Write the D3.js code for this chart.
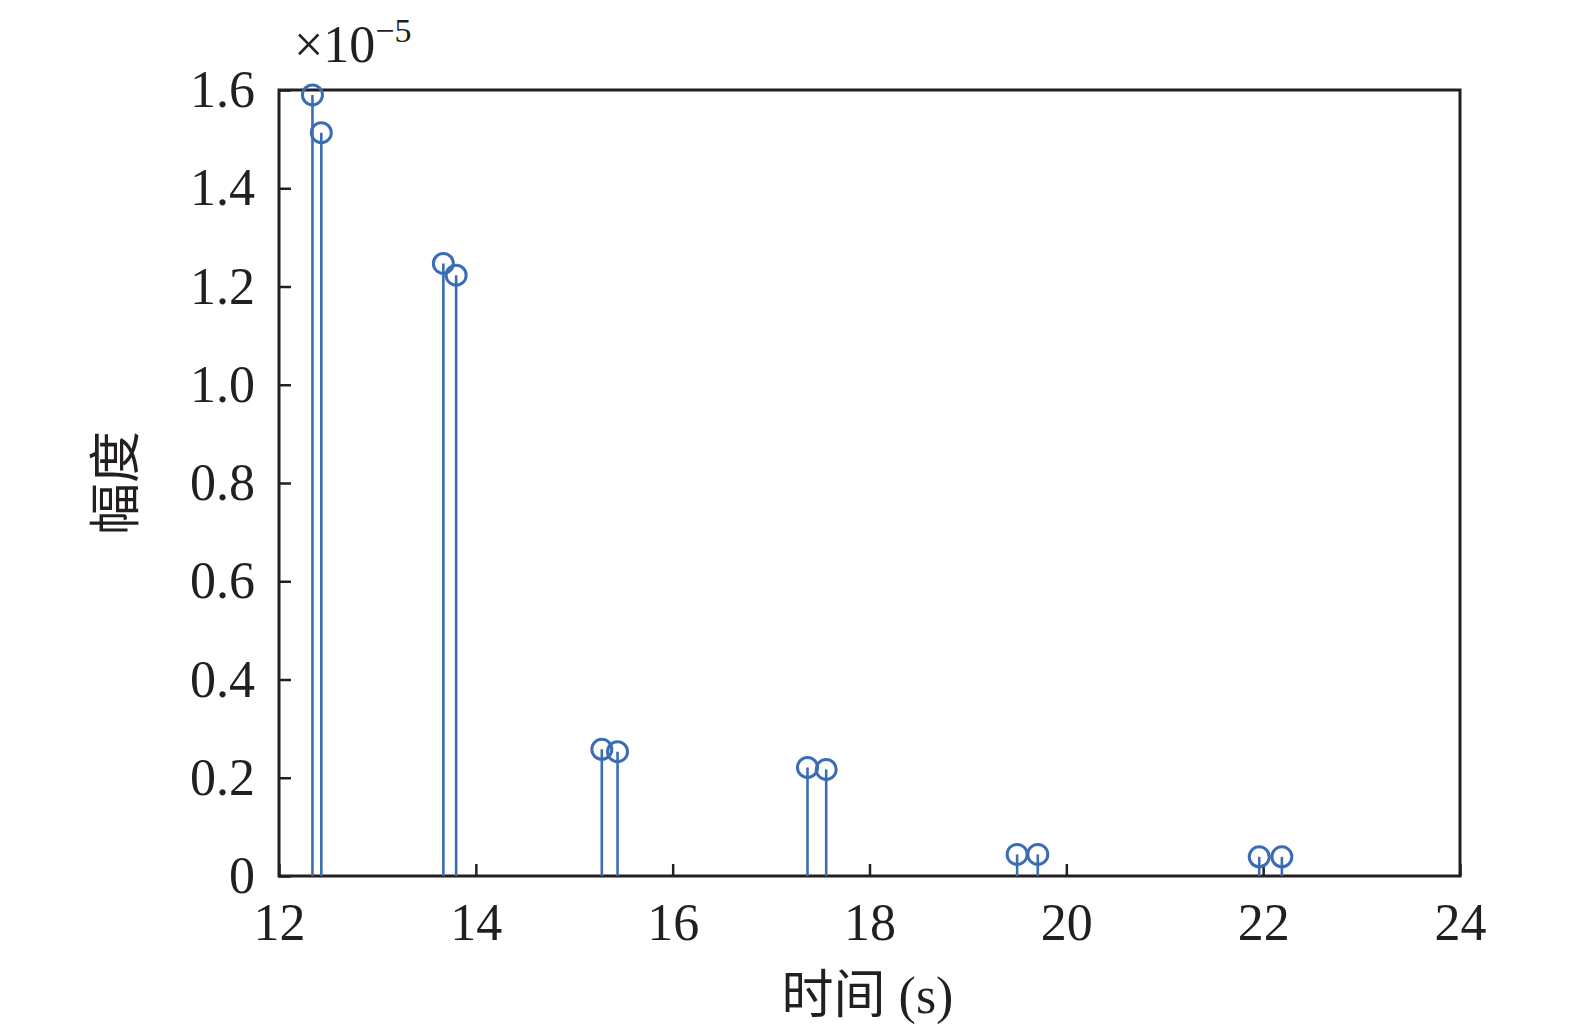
<!DOCTYPE html>
<html>
<head>
<meta charset="utf-8">
<script src="https://cdn.jsdelivr.net/npm/d3@7"></script>
<style>
  body { margin: 0; background: #fff; }
  svg { display: block; }
</style>
</head>
<body>
<svg id="chart" width="1575" height="1036"></svg>
<script>
// temps (s) et amplitude (x1e-5)
const temps = [12.34, 12.43, 13.67, 13.80, 15.28, 15.44, 17.37, 17.56, 19.50, 19.71, 21.96, 22.19]
const amplitude = [1.590, 1.513, 1.247, 1.223, 0.258, 0.253, 0.221, 0.217, 0.044, 0.044, 0.039, 0.039]
const xTicks = [12, 14, 16, 18, 20, 22, 24]
const yTicks = [0, 0.2, 0.4, 0.6, 0.8, 1.0, 1.2, 1.4, 1.6]

const COULEUR = '#3a6db4'
const POLICE = '"Liberation Serif", "Times New Roman", serif'
const POLICE_CJK = '"Noto Sans CJK SC", sans-serif'

const svg = d3.select('#chart')
const marge = { gauche: 279, droite: 1460, haut: 90, bas: 876 }

const x = d3.scaleLinear().domain([12, 24]).range([marge.gauche, marge.droite])
const y = d3.scaleLinear().domain([0, 1.6]).range([marge.bas, marge.haut])

// Axes (ticks vers l'intérieur)
const axeX = svg.append('g').attr('transform', 'translate(0,' + marge.bas + ')')
    .call(d3.axisBottom(x).tickValues(xTicks).tickSizeInner(-12).tickSizeOuter(0).tickPadding(27).tickFormat(d3.format('d')))
const axeY = svg.append('g').attr('transform', 'translate(' + marge.gauche + ',0)')
    .call(d3.axisLeft(y).tickValues(yTicks).tickSizeInner(-12).tickSizeOuter(0).tickPadding(24)
        .tickFormat(d => d === 0 ? '0' : d3.format('.1f')(d)))

;[axeX, axeY].forEach(a => {
    a.select('.domain').remove()
    a.selectAll('line').attr('stroke', '#231f20').attr('stroke-width', 2.5)
    a.selectAll('text').style('font-family', POLICE).style('font-size', '52px').attr('fill', '#231f20')
})
axeX.selectAll('text').attr('dy', '0.71em')

// Cadre
svg.append('rect').attr('x', marge.gauche).attr('y', marge.haut)
    .attr('width', marge.droite - marge.gauche).attr('height', marge.bas - marge.haut)
    .attr('fill', 'none').attr('stroke', '#231f20').attr('stroke-width', 3)

// Tiges
const tiges = svg.append('g').attr('class', 'tiges')
temps.forEach((t, i) => {
    tiges.append('line')
        .attr('x1', x(t)).attr('x2', x(t))
        .attr('y1', y(0)).attr('y2', y(amplitude[i]))
        .attr('stroke', COULEUR).attr('stroke-width', 2.6)
})
temps.forEach((t, i) => {
    tiges.append('circle')
        .attr('cx', x(t)).attr('cy', y(amplitude[i])).attr('r', 10)
        .attr('fill', 'none').attr('stroke', COULEUR).attr('stroke-width', 3)
})

// Exposant
const expo = svg.append('text').attr('x', 294).attr('y', 62).style('font-family', POLICE).attr('fill', '#231f20')
expo.append('tspan').text('×10').style('font-size', '52px')
expo.append('tspan').text('−5').attr('dy', -20).style('font-size', '34px')

// Titres des axes
const titreX = svg.append('text')
    .attr('x', (marge.gauche + marge.droite) / 2 - 2).attr('y', 1013)
    .attr('text-anchor', 'middle').attr('fill', '#231f20').style('font-size', '52px')
titreX.append('tspan').text('时间').style('font-family', POLICE_CJK)
titreX.append('tspan').text(' (s)').style('font-family', POLICE)

svg.append('text').text('幅度')
    .attr('transform', 'translate(134,' + ((marge.haut + marge.bas) / 2) + ') rotate(-90)')
    .attr('text-anchor', 'middle').style('font-family', POLICE_CJK)
    .style('font-size', '52px').attr('fill', '#231f20')
</script>
</body>
</html>
